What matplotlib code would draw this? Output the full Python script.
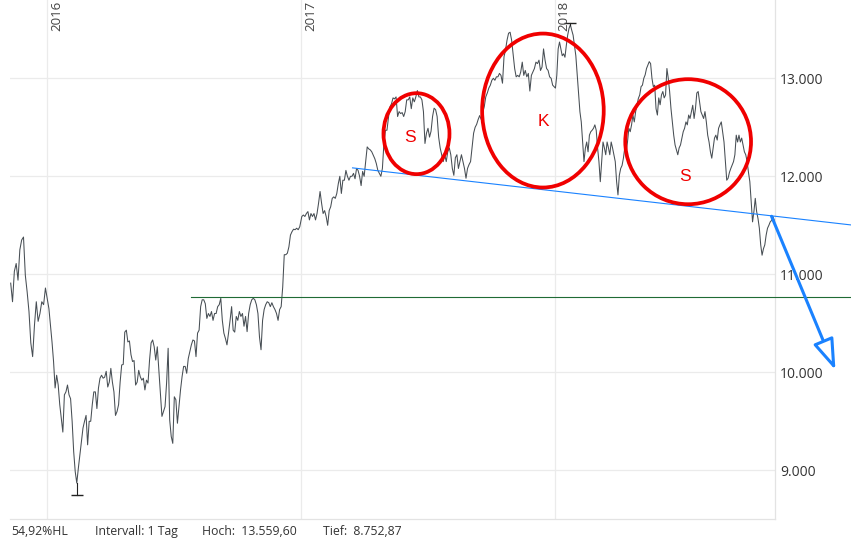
import numpy as np
import pandas as pd
import matplotlib
matplotlib.use('Agg')
import matplotlib.pyplot as plt
import matplotlib.dates as mdates
from matplotlib.transforms import offset_copy
from matplotlib.patches import Ellipse, FancyArrowPatch

# daily closes (one list per calendar year)
close_2015 = [10910, 10720, 11030, 11110, 10940, 11250, 11350, 11380, 10990, 10820,
              10620, 10300, 10160, 10480, 10720, 10520, 10600, 10720, 10690, 10860]

close_2016 = [10650, 10480, 10310, 10110, 9840, 9970, 9870, 9670, 9530, 9390,
              9770, 9800, 9870, 9770, 9730, 9500, 9190, 8985, 8870, 9020,
              9155, 9290, 9430, 9500, 9560, 9260, 9500, 9500, 9670, 9800,
              9800, 9630, 9840, 9940, 9970, 9940, 9950, 10010, 9850, 9900,
              10040, 9900, 9800, 9560, 9600, 9670, 9900, 10075, 10080, 10410,
              10430, 10310, 10320, 10180, 10110, 10120, 9870, 9900,
              10020, 9955, 9920, 9940, 9820, 9920, 9890, 10125, 10300, 10330,
              10260, 10125, 10260, 10020, 9785, 9550, 9600, 9650, 9890, 10245,
              9515, 9345, 9275, 9750, 9720, 9480, 9650, 9820, 9955, 10060,
              10060, 9990, 10140, 10210, 10280, 10330, 10320, 10160, 10400, 10430,
              10670, 10740, 10740, 10700, 10550, 10600, 10570, 10620, 10530, 10600,
              10600, 10670, 10690, 10755, 10530, 10400, 10345, 10280, 10400, 10530,
              10670, 10430, 10410, 10570, 10530, 10620, 10570, 10600, 10470, 10570,
              10415, 10600, 10690, 10740, 10755, 10740, 10690, 10600, 10360, 10230,
              10530, 10640, 10690, 10720, 10710, 10670, 10710, 10670, 10640, 10600,
              10530, 10640, 10670, 10870, 11200, 11200, 11215, 11280, 11400, 11435,
              11460, 11455, 11470, 11455, 11485]

close_2017 = [11590, 11605, 11590, 11620, 11640, 11555, 11620, 11590, 11620, 11555,
              11620, 11725, 11845, 11725, 11620, 11650, 11590, 11500, 11650, 11690,
              11775, 11790, 11775, 11825, 11925, 12000, 11825, 11960, 11960, 12060,
              12000, 11960, 12000, 12000, 12030, 11975, 12080, 12060, 12000, 11905,
              12050, 12000, 12150, 12300, 12280, 12270, 12250, 12215, 12180, 12130,
              12060, 12030, 12000, 12080, 12335, 12470, 12470,
              12600, 12710, 12740, 12800, 12790, 12810, 12610, 12660, 12640, 12650,
              12610, 12660, 12780, 12780, 12810, 12690, 12800, 12760, 12810, 12875,
              12810, 12810, 12780, 12660, 12335, 12440, 12490, 12400, 12460, 12610,
              12695, 12680, 12610, 12400, 12290, 12220, 12150, 12220, 12150, 12250,
              12290, 12220, 12080, 12010, 12190, 12220, 12080, 12150, 12220, 12150,
              12080, 11980, 12080, 12120, 12150, 12290, 12440, 12500, 12530, 12580,
              12620, 12580, 12650, 12710, 12810, 12850, 12900, 12930, 12980, 13000,
              12980, 13015, 13015, 13050, 13030, 12950, 13220, 13290, 13390, 13460,
              13470, 13390, 13240, 13100,
              13015, 13030, 13015, 13065, 13165, 13030, 13080, 13015, 13050, 12870,
              13030, 13065, 13100, 13165, 13150, 13185, 13080, 13115, 13300, 13185,
              13100, 13080, 13015, 13000, 12930]

close_2018 = [12900, 13030, 13300, 13370, 13300, 13230, 13250, 13215, 13335, 13440,
              13510, 13545, 13490, 13440, 13335, 13230, 13035, 12830, 12660, 12555,
              12350, 12150, 12285, 12350, 12250, 12420, 12455, 12470, 12490, 12525,
              12470, 12290, 12150, 11945, 12150, 12350, 12290, 12220, 12350, 12290,
              12220, 12350, 12290, 12220, 12150, 11945, 11810, 12010, 12080, 12110,
              12185, 12290, 12250, 12350, 12490, 12455, 12525, 12625, 12555, 12660,
              12725, 12795, 12830, 12915, 12930,
              13000, 13035, 13100, 13135, 13170, 13150, 13000, 12915, 12930, 12690,
              12625, 12800, 12730, 12830, 12865, 12800, 12830, 13100, 13000, 12865,
              12690, 12555, 12420, 12320, 12270, 12220, 12290, 12320, 12390, 12455,
              12490, 12555, 12525, 12625, 12590, 12660, 12725, 12590, 12690, 12850,
              12865, 12760, 12660, 12625, 12590, 12660, 12555, 12420, 12350, 12250,
              12185, 12290, 12390, 12420, 12370, 12490, 12525, 12555, 12455, 12350,
              12150, 11960, 11980, 12040, 12080, 12115, 12150, 12220, 12420, 12350,
              12420, 12350, 12390, 12320, 12250, 12220, 12150, 12040, 11945, 11740,
              11535, 11640, 11775, 11640, 11570, 11470, 11300, 11195, 11260, 11300,
              11400, 11470, 11500, 11535, 11550, 11590, 11550]

year_spans = [('2015-11-10', '2015-12-30'), ('2016-01-04', '2016-12-30'),
              ('2017-01-02', '2017-12-29'), ('2018-01-02', '2018-11-13')]

period_high = 13559.60
period_low = 8752.87
y_ticks = [9000, 10000, 11000, 12000, 13000]
y_tick_labels = ['9.000', '10.000', '11.000', '12.000', '13.000']
year_starts = ['2016-01-01', '2017-01-01', '2018-01-01']
year_labels = ['2016', '2017', '2018']

# chart drawing (annotations): neckline, support, formation circles, target arrow
neckline = [('2017-03-16', 12086), ('2019-03-03', 11504)]
support_level = 10765
support_start = '2016-07-26'
formations = [('S', '2017-06-16', 12435, 95, 826, '2017-06-07', 12396),
              ('K', '2017-12-15', 12671, 175, 1571, '2017-12-15', 12564),
              ('S', '2018-07-12', 12353, 181, 1276, '2018-07-08', 11997)]
target_arrow = [('2018-11-09', 11592), ('2019-02-09', 10023)]

# build the series
dates = []
closes = []
for (start, end), vals in zip(year_spans, [close_2015, close_2016, close_2017, close_2018]):
    dates.extend(pd.date_range(start, end, periods=len(vals)))
    closes.extend(vals)
dates = pd.DatetimeIndex(dates)
closes = np.array(closes, dtype=float)

text_color = '#333333'
grid_color = '#ebebeb'
blue = '#1a82ff'
red = '#f00000'

fig = plt.figure(figsize=(8.51, 5.42), dpi=100)
ax = fig.add_axes([10 / 851, 23 / 542, 765 / 851, 519 / 542])

ax.plot(dates, closes, color='#474e54', lw=0.75, zorder=3)

# extreme markers
i_hi = int(np.argmax(closes))
i_lo = int(np.argmin(closes))
for i, ext in [(i_hi, period_high), (i_lo, period_low)]:
    ax.plot([dates[i], dates[i]], [closes[i], ext], color='#222222', lw=0.8, zorder=3)
    ax.plot([dates[i]], [ext], marker='_', markersize=8, mew=1.0, color='#222222', zorder=3)

ax.set_xlim(pd.Timestamp('2015-11-09'), pd.Timestamp('2018-11-14'))
ax.set_ylim(8503, 13799)

ax.set_yticks(y_ticks)
ax.set_yticklabels(y_tick_labels)
ax.yaxis.tick_right()
ax.set_xticks([pd.Timestamp(d) for d in year_starts])
ax.set_xticklabels([])
ax.tick_params(axis='both', length=0)
ax.tick_params(axis='y', pad=3.5, labelsize=10, labelcolor=text_color)
for lab in ax.get_yticklabels():
    lab.set_family('Open Sans')
ax.grid(True, color=grid_color, lw=0.9, zorder=0)
ax.set_axisbelow(True)
for side in ['top', 'left']:
    ax.spines[side].set_visible(False)
for side in ['right', 'bottom']:
    ax.spines[side].set_color('#e3e3e3')
    ax.spines[side].set_linewidth(0.9)

# year labels at the top
year_tr = offset_copy(ax.get_xaxis_transform(), fig=fig, x=3, y=0, units='dots')
for d, lab in zip(year_starts, year_labels):
    ax.text(pd.Timestamp(d), 1 - 31 / 519, lab, transform=year_tr, rotation=90,
            ha='left', va='bottom', fontsize=9.5, color='#444444', family='Open Sans')

# support line and neckline
ax.plot([pd.Timestamp(support_start), pd.Timestamp('2019-06-30')], [support_level, support_level],
        color='#1f6b35', lw=0.8, zorder=4, clip_on=False)
ax.plot([pd.Timestamp(neckline[0][0]), pd.Timestamp(neckline[1][0])],
        [neckline[0][1], neckline[1][1]], color=blue, lw=0.8, zorder=4, clip_on=False)

# shoulder/head circles
for lab, cd, cv, w, h, td, tv in formations:
    ell = Ellipse((mdates.date2num(pd.Timestamp(cd)), cv), w, h, fill=False,
                  ec=red, lw=2.7, zorder=5)
    ax.add_patch(ell)
    ax.text(pd.Timestamp(td), tv, lab, color=red, fontsize=12.5, ha='center', va='center',
            family='Liberation Sans', zorder=6)

arrow = FancyArrowPatch((mdates.date2num(pd.Timestamp(target_arrow[0][0])), target_arrow[0][1]),
                        (mdates.date2num(pd.Timestamp(target_arrow[1][0])), target_arrow[1][1]),
                        arrowstyle='-|>,head_length=1.9,head_width=0.65', mutation_scale=10,
                        lw=2.2, ec=blue, fc='white', shrinkA=0, shrinkB=0,
                        zorder=6, clip_on=False)
ax.add_patch(arrow)

# footer info
hl_pct = (period_high - period_low) / period_low * 100
footer = [('{:.2f}%HL'.format(hl_pct).replace('.', ','), 11.5),
          ('Intervall: 1 Tag', 95),
          ('Hoch:  13.559,60', 201.5),
          ('Tief:  8.752,87', 323)]
for txt, px in footer:
    fig.text(px / 851, (542 - 531.5) / 542, txt, ha='left', va='center',
             fontsize=8.8, color=text_color, family='Open Sans')

fig.savefig('out.png', dpi=100)
